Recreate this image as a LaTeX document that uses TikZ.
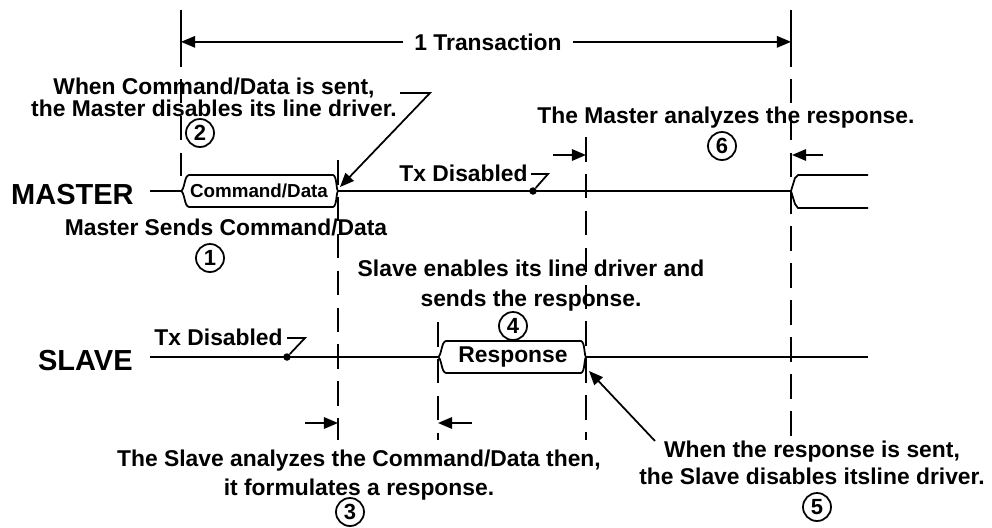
\documentclass[tikz,border=0pt]{standalone}
\usepackage{fontspec}
\setmainfont{Liberation Sans}
\usetikzlibrary{arrows.meta}

\tikzset{
  sig/.style={line width=1pt},
  guide/.style={line width=1pt, dash pattern=on 14pt off 7pt},
  tip/.style={line width=1pt, -{Triangle[length=8pt,width=6.5pt]}},
  lbl/.style={font=\fontsize{13}{11}\selectfont\bfseries, inner sep=0pt},
  big/.style={font=\fontsize{16.5}{18}\selectfont\bfseries, inner sep=0pt},
  num/.style={circle, draw, line width=1pt, minimum size=0.56cm, inner sep=0pt, font=\fontsize{12.5}{12}\selectfont\bfseries},
  txdot/.style={circle, fill, inner sep=0pt, minimum size=0.15cm},
}

\begin{document}
\begin{tikzpicture}[x=0.02cm, y=-0.02cm]
    \useasboundingbox (0,0) rectangle (992,528);

    % Signal names
    \node[big, anchor=base east] (master) at (134,204) {MASTER};
    \node[big, anchor=base east] (slave) at (133,370) {SLAVE};

    % 1 Transaction
    \node[lbl, anchor=base, inner xsep=6pt] (trans) at (488,50) {1 Transaction};
    \coordinate (tl) at (181,42);
    \coordinate (tr) at (791,42);
    \draw[sig] (181,10) -- (tl);
    \draw[sig] (791,10) -- (tr);
    \draw[tip] (trans.west) -- (trans.west -| tl);
    \draw[tip] (trans.east) -- (trans.east -| tr);

    % Dashed guide lines
    \draw[guide] (tl) -- (181,176);
    \foreach \x/\a/\b in {338/160/440, 438/322/440, 586/137/440, 791/42/440} {
        \draw[guide] (\x,\a) -- (\x,\b);
    }

    % Master signal with Command/Data
    \draw[sig] (150,191) -- (181,191) .. controls (185,189) and (184,176) .. (189,175) -- (333,175) .. controls (337,176) and (336,189) .. (338,191) .. controls (336,193) and (337,206) .. (333,207) -- (189,207) .. controls (184,206) and (185,193) .. (181,191);
    \draw[sig] (338,191) -- (791,191);
    \draw[sig] (791,191) -- (795,178) -- (798,175) -- (868,175);
    \draw[sig] (791,191) -- (795,204) -- (798,208) -- (868,208);
    \node[font=\fontsize{10.7}{12}\selectfont\bfseries, inner sep=0pt] (cmd) at (259,191) {Command/Data};
    \coordinate (cmdend) at (340,187);

    % Master Tx Disabled
    \node[txdot] (mdot) at (533,191) {};
    \node[lbl, anchor=base east] (mtx) at (528,181) {Tx Disabled};
    \draw[sig] (mtx.base east) ++(3,-7) -- (548,174) -- (mdot);

    % Slave signal with Response
    \draw[sig] (150,357) -- (438,357) .. controls (442,355) and (441,342) .. (446,341) -- (581,341) .. controls (585,342) and (584,355) .. (586,357) .. controls (584,359) and (585,372) .. (581,373) -- (446,373) .. controls (441,372) and (442,359) .. (438,357);
    \draw[sig] (586,357) -- (868,357);
    \node[lbl] (resp) at (513,357) {Response};
    \coordinate (respend) at (589,371);

    % Slave Tx Disabled
    \node[txdot] (sdot) at (287,357) {};
    \node[lbl, anchor=base east] (stx) at (283,345) {Tx Disabled};
    \draw[sig] (287,338) -- (305,338) -- (sdot);

    % Notes
    \node[lbl, align=center] (note2) at (214,97) {When Command/Data is sent,\\the Master disables its line driver.};
    \draw[tip] (400,93) -- (430,93) -- (cmdend);
    \node[num] (n2) at (200,133) {2};

    \node[lbl, anchor=base] (msend) at (226,235) {Master Sends Command/Data};
    \node[num] (n1) at (210,258) {1};

    \node[lbl, anchor=base] (manal) at (726,123) {The Master analyzes the response.};
    \node[num] (n6) at (722,146) {6};
    \draw[tip] (553,155) -- (586,155);
    \draw[tip] (823,155) -- (792,155);

    \node[lbl, align=center] (senable) at (531,286) {Slave enables its line driver and\\[6pt]sends the response.};
    \node[num] (n4) at (513,326) {4};

    \node[lbl, align=center] (sanal) at (359,475) {The Slave analyzes the Command/Data then,\\[3pt]it formulates a response.};
    \node[num] (n3) at (350,512) {3};
    \draw[tip] (305,423) -- (338,423);
    \draw[tip] (472,423) -- (438,423);

    \node[lbl, align=center] (sresp) at (812,463) {When the response is sent,\\[2pt]the Slave disables itsline driver.};
    \node[num] (n5) at (817,507) {5};
    \draw[tip] (655,441) -- (respend);

\end{tikzpicture}
\end{document}
